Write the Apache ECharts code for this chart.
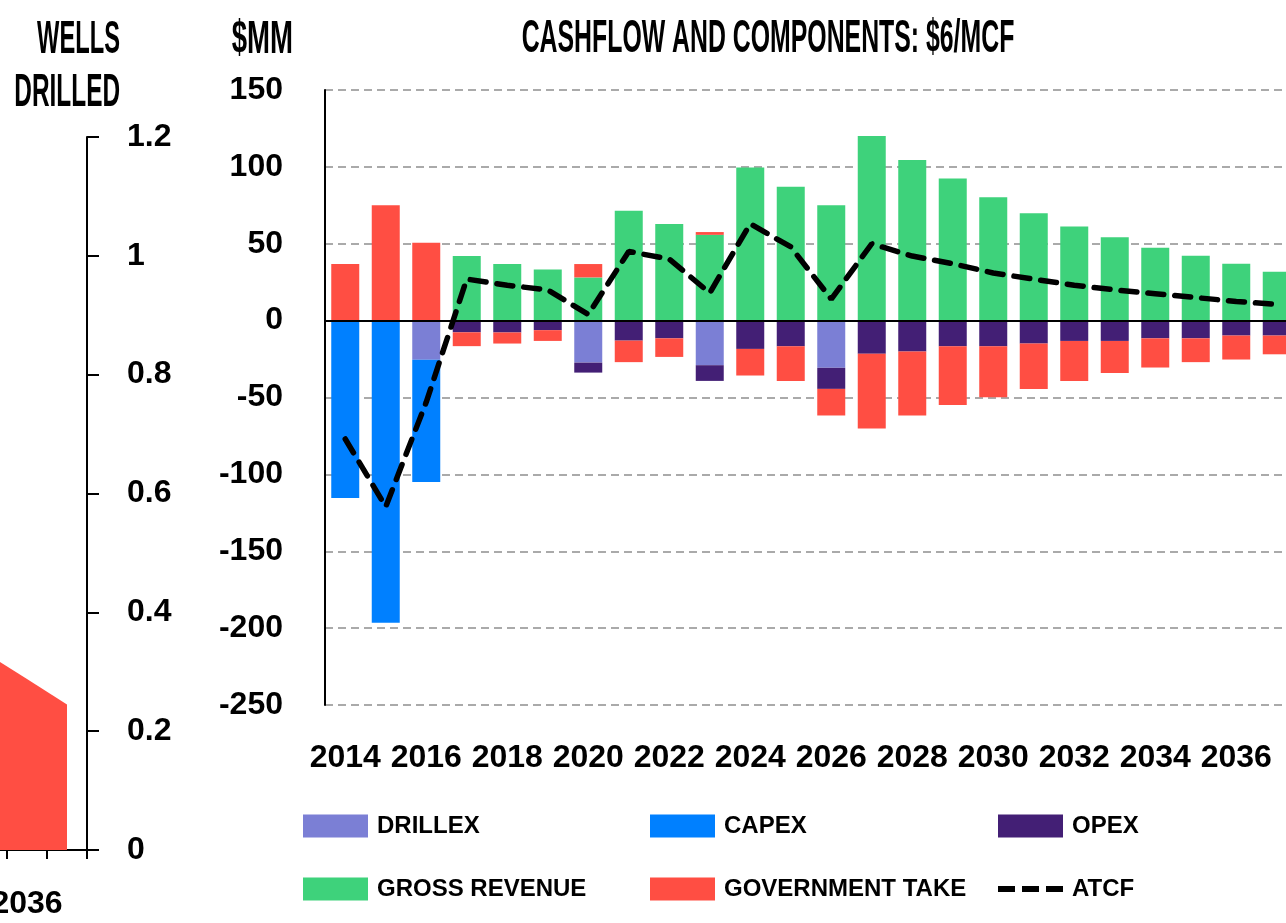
<!DOCTYPE html>
<html>
<head>
<meta charset="utf-8">
<title>Cashflow and components</title>
<script src="https://cdn.jsdelivr.net/npm/echarts@6/dist/echarts.min.js"></script>
<style>
  html, body { margin: 0; padding: 0; background: #fff; }
  #chart { width: 1286px; height: 923px; }
</style>
</head>
<body>
<div id="chart"></div>
<script>
// years shared by both panels
const years = ['2014', '2015', '2016', '2017', '2018', '2019', '2020', '2021', '2022', '2023', '2024', '2025',
  '2026', '2027', '2028', '2029', '2030', '2031', '2032', '2033', '2034', '2035', '2036', '2037']

// cashflow components, $MM
const drillex = [0, 0, -25.5, 0, 0, 0, -27.3, 0, 0, -29, 0, 0, -30.7, 0, 0, 0, 0, 0, 0, 0, 0, 0, 0, 0]
const capex = [-115.4, -196.5, -79.5, 0, 0, 0, 0, 0, 0, 0, 0, 0, 0, 0, 0, 0, 0, 0, 0, 0, 0, 0, 0, 0]
const opex = [0, 0, 0, -7.6, -7.7, -6.2, -6.5, -13, -11.5, -10.2, -18.4, -16.7, -13.7, -21.6, -20.1, -16.7,
  -16.7, -14.9, -13.2, -13.2, -11.5, -11.5, -9.7, -9.7]
const grossRevenue = [0, 0, 0, 42, 36.8, 33.3, 28.1, 71.4, 62.8, 55.8, 99.6, 87, 75.1, 120.1, 104.5, 92.4,
  80.3, 69.9, 61.3, 54.3, 47.4, 42.2, 37, 31.8]
const govTake = [36.8, 75.1, 50.6, -9, -7.2, -7, 8.7, -14, -12.1, 1.8, -17.3, -22.5, -17.3, -48.5, -41.6, -38.1,
  -33.1, -29.5, -26, -20.8, -19, -15.5, -15.6, -12.2]
const atcf = [-77, -121, -53, 27, 23, 20, 4, 45, 40, 18, 63, 48, 14, 50, 42, 37, 31, 27, 23, 20, 17.5, 15, 12.5, 10.5]

// left panel (only its last years are in view)
const wellsDrilled = [null, null, null, null, null, null, null, null, null, null, null, null,
  null, null, null, null, null, null, null, null, null, 0.33, 0.288, 0.245]

const FONT = '"Liberation Sans", Arial, sans-serif'
const RED = '#ff4e43'

const chart = echarts.init(document.getElementById('chart'))

const axisText = { color: '#000', fontFamily: FONT, fontWeight: 'bold', fontSize: 32, hideOverlap: false }
const legendBase = {
  orient: 'vertical',
  top: 811,
  padding: 0,
  itemWidth: 65,
  itemHeight: 23,
  itemGap: 33,
  symbolKeepAspect: true,
  textStyle: { color: '#000', fontFamily: FONT, fontWeight: 'bold', fontSize: 24, lineHeight: 30, padding: [0, 0, 0, 4] }
}
// three short dashes for the ATCF legend key
const dashIcon = 'path://M0,0h17v6H0z M24,0h17v6H24z M48,0h17v6H48z'

// condensed headings: drawn as text, squeezed horizontally
function heading(text, x, y, sx, align) {
  return {
    type: 'text', x: x, y: y, scaleX: sx,
    style: { text: text, font: 'bold 46px ' + FONT, fill: '#000', align: align, verticalAlign: 'middle' }
  }
}

const option = {
  animation: false,
  backgroundColor: '#fff',
  textStyle: { fontFamily: FONT },
  graphic: [
    heading('CASHFLOW AND COMPONENTS: $6/MCF', 768, 39, 0.54, 'center'),
    heading('$MM', 293, 40, 0.6, 'right'),
    heading('WELLS', 120, 40, 0.515, 'right'),
    heading('DRILLED', 120, 93, 0.53, 'right')
  ],
  legend: [
    Object.assign({}, legendBase, { left: 303, data: [{ name: 'DRILLEX', icon: 'rect' }, { name: 'GROSS REVENUE', icon: 'rect' }] }),
    Object.assign({}, legendBase, { left: 650, data: [{ name: 'CAPEX', icon: 'rect' }, { name: 'GOVERNMENT TAKE', icon: 'rect' }] }),
    Object.assign({}, legendBase, { left: 998, data: [{ name: 'OPEX', icon: 'rect' }, { name: 'ATCF', icon: dashIcon }] })
  ],
  grid: [
    // wells drilled panel, mostly off to the left
    { left: -873, right: 1199, top: 137, bottom: 73, containLabel: false, outerBoundsMode: 'none' },
    // cashflow panel
    { left: 325, right: -11, top: 90, bottom: 218, containLabel: false, outerBoundsMode: 'none' }
  ],
  xAxis: [
    {
      type: 'category',
      gridIndex: 0,
      data: years,
      axisLine: { show: true, lineStyle: { color: '#000', width: 2 } },
      axisTick: { show: true, interval: 0, length: 9, lineStyle: { color: '#000', width: 2 } },
      axisLabel: Object.assign({ interval: 1, margin: 38 }, axisText),
      splitLine: { show: false }
    },
    {
      type: 'category',
      gridIndex: 1,
      data: years,
      axisLine: { show: false },
      axisTick: { show: false },
      axisLabel: Object.assign({ interval: 1, margin: 37 }, axisText),
      splitLine: { show: false }
    }
  ],
  yAxis: [
    {
      type: 'value',
      gridIndex: 0,
      position: 'right',
      min: 0,
      max: 1.2,
      interval: 0.2,
      axisLine: { show: true, onZero: false, lineStyle: { color: '#000', width: 2 } },
      axisTick: { show: true, length: 12, lineStyle: { color: '#000', width: 2 } },
      axisLabel: Object.assign({ margin: 40 }, axisText),
      splitLine: { show: false }
    },
    {
      type: 'value',
      gridIndex: 1,
      min: -250,
      max: 150,
      interval: 50,
      axisLine: { show: true, onZero: false, lineStyle: { color: '#000', width: 2 } },
      axisTick: { show: false },
      axisLabel: Object.assign({ margin: 42 }, axisText),
      splitLine: { show: true, lineStyle: { color: '#aaaaaa', width: 2, type: [8, 5] } }
    }
  ],
  series: [
    {
      name: 'WELLS',
      type: 'line',
      xAxisIndex: 0,
      yAxisIndex: 0,
      data: wellsDrilled,
      symbol: 'none',
      lineStyle: { width: 0, color: RED },
      itemStyle: { color: RED },
      areaStyle: { color: RED, opacity: 1 }
    },
    {
      name: 'DRILLEX', type: 'bar', stack: 'cf', xAxisIndex: 1, yAxisIndex: 1,
      barWidth: 28, data: drillex, itemStyle: { color: '#7b7fd5' }
    },
    {
      name: 'CAPEX', type: 'bar', stack: 'cf', xAxisIndex: 1, yAxisIndex: 1,
      barWidth: 28, data: capex, itemStyle: { color: '#0080ff' }
    },
    {
      name: 'OPEX', type: 'bar', stack: 'cf', xAxisIndex: 1, yAxisIndex: 1,
      barWidth: 28, data: opex, itemStyle: { color: '#431f75' }
    },
    {
      name: 'GROSS REVENUE', type: 'bar', stack: 'cf', xAxisIndex: 1, yAxisIndex: 1,
      barWidth: 28, data: grossRevenue, itemStyle: { color: '#3ed27b' }
    },
    {
      name: 'GOVERNMENT TAKE', type: 'bar', stack: 'cf', xAxisIndex: 1, yAxisIndex: 1,
      barWidth: 28, data: govTake, itemStyle: { color: RED }
    },
    {
      name: 'ATCF',
      type: 'line',
      xAxisIndex: 1,
      yAxisIndex: 1,
      data: atcf,
      symbol: 'none',
      z: 5,
      itemStyle: { color: '#000' },
      lineStyle: { color: '#000', width: 5.5, type: [16, 11], cap: 'round' },
      markLine: {
        silent: true,
        symbol: 'none',
        label: { show: false },
        lineStyle: { color: '#000', width: 2, type: 'solid' },
        data: [{ yAxis: 0 }]
      }
    }
  ]
}

chart.setOption(option)
</script>
</body>
</html>
